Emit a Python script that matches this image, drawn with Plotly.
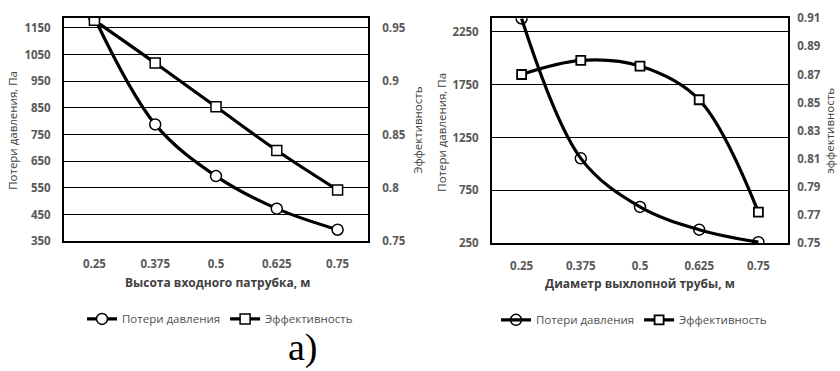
import plotly.graph_objects as go

W, H = 840, 371

# ---------------- data ----------------
categories = ["0.25", "0.375", "0.5", "0.625", "0.75"]

left_pressure = [1188, 788, 594, 472, 393]
left_efficiency = [0.957, 0.917, 0.876, 0.835, 0.798]

right_pressure = [2378, 1053, 593, 377, 259]
right_efficiency = [0.870, 0.880, 0.876, 0.852, 0.772]

left_y_ticks = [350, 450, 550, 650, 750, 850, 950, 1050, 1150]
left_y2_ticks = [0.75, 0.8, 0.85, 0.9, 0.95]
left_y2_labels = ["0.75", "0.8", "0.85", "0.9", "0.95"]
right_y_ticks = [250, 750, 1250, 1750, 2250]
right_y2_ticks = [0.75, 0.77, 0.79, 0.81, 0.83, 0.85, 0.87, 0.89, 0.91]
right_y2_labels = ["0.75", "0.77", "0.79", "0.81", "0.83", "0.85", "0.87", "0.89", "0.91"]

name_p = "Потери давления"
name_e = "Эффективность"

# ---------------- helpers ----------------
def px(x):
    return x / W

def py(y):
    return 1 - y / H

def bold(labels):
    return ["<b>%s</b>" % l for l in labels]

TICKFONT = dict(family="Open Sans", size=11.5, color="#595959")
TITLEFONT = dict(family="Open Sans", size=11.5, color="#404040")
LEGFONT = dict(family="Open Sans", size=11.5, color="#505050")

fig = go.Figure()

line = dict(color="black", width=3.2, shape="spline", smoothing=1)

# left chart
fig.add_trace(go.Scatter(x=categories, y=left_pressure, name=name_p, mode="lines+markers",
                         line=line, xaxis="x", yaxis="y", legend="legend",
                         marker=dict(symbol="circle", size=11, color="white",
                                     line=dict(color="black", width=1.5))))
fig.add_trace(go.Scatter(x=categories, y=left_efficiency, name=name_e, mode="lines+markers",
                         line=line, xaxis="x", yaxis="y2", legend="legend",
                         marker=dict(symbol="square", size=10, color="white",
                                     line=dict(color="black", width=1.5))))
# right chart
fig.add_trace(go.Scatter(x=categories, y=right_pressure, name=name_p, mode="lines+markers",
                         line=line, xaxis="x2", yaxis="y3", legend="legend2",
                         marker=dict(symbol="circle-open", size=11, color="black",
                                     line=dict(color="black", width=1.5))))
fig.add_trace(go.Scatter(x=categories, y=right_efficiency, name=name_e, mode="lines+markers",
                         line=line, xaxis="x2", yaxis="y4", legend="legend2",
                         marker=dict(symbol="square", size=9, color="white",
                                     line=dict(color="black", width=1.8))))

xcommon = dict(type="category", range=[-0.5, 4.5], showgrid=False, zeroline=False,
               showline=True, linecolor="black", linewidth=2, mirror=True,
               tickvals=categories, ticktext=bold(categories),
               ticks="outside", ticklen=11, tickcolor="rgba(0,0,0,0)",
               tickfont=TICKFONT, fixedrange=True)

fig.update_layout(
    width=W, height=H,
    margin=dict(l=0, r=0, t=0, b=0),
    paper_bgcolor="white", plot_bgcolor="white",
    xaxis=dict(xcommon, domain=[px(64), px(368)], anchor="y"),
    yaxis=dict(domain=[py(243), py(10)], range=[350, 1188.5], anchor="x",
               tickvals=left_y_ticks, ticktext=bold([str(v) for v in left_y_ticks]),
               showgrid=True, gridcolor="black", gridwidth=1.3,
               zeroline=False, showline=True, linecolor="black", linewidth=2, mirror=True,
               ticks="outside", ticklen=9, tickcolor="rgba(0,0,0,0)", tickfont=TICKFONT),
    yaxis2=dict(overlaying="y", side="right", anchor="x", range=[0.75, 0.9596],
                tickvals=left_y2_ticks, ticktext=bold(left_y2_labels), showgrid=False,
                zeroline=False, ticks="outside", ticklen=11, tickcolor="rgba(0,0,0,0)",
                tickfont=TICKFONT),
    xaxis2=dict(xcommon, domain=[px(492), px(788)], anchor="y3"),
    yaxis3=dict(domain=[py(245), py(10.7)], range=[250, 2380], anchor="x2",
                tickvals=right_y_ticks, ticktext=bold([str(v) for v in right_y_ticks]),
                showgrid=True, gridcolor="black", gridwidth=1.3,
                zeroline=False, showline=True, linecolor="black", linewidth=2, mirror=True,
                ticks="outside", ticklen=9, tickcolor="rgba(0,0,0,0)", tickfont=TICKFONT),
    yaxis4=dict(overlaying="y3", side="right", anchor="x2", range=[0.75, 0.91],
                tickvals=right_y2_ticks, ticktext=bold(right_y2_labels), showgrid=False,
                zeroline=False, ticks="outside", ticklen=6, tickcolor="rgba(0,0,0,0)",
                tickfont=TICKFONT),
    legend=dict(orientation="h", x=px(220), y=py(324), xanchor="center", yanchor="middle",
                font=LEGFONT, itemwidth=30, bgcolor="rgba(0,0,0,0)"),
    legend2=dict(orientation="h", x=px(634), y=py(325), xanchor="center", yanchor="middle",
                 font=LEGFONT, itemwidth=30, bgcolor="rgba(0,0,0,0)"),
    showlegend=True,
)

annotations = [
    dict(text="Потери давления, Па", x=px(13), y=py(128), textangle=-90, font=TITLEFONT),
    dict(text="Эффективность", x=px(418), y=py(127), textangle=-90, font=TITLEFONT),
    dict(text="Потери давления, Па", x=px(442), y=py(130), textangle=-90, font=TITLEFONT),
    dict(text="эффективность", x=px(830), y=py(128), textangle=-90, font=TITLEFONT),
    dict(text="<b>Высота входного патрубка, м</b>", x=px(217), y=py(286),
         font=dict(family="Open Sans", size=12, color="#404040")),
    dict(text="<b>Диаметр выхлопной трубы, м</b>", x=px(640), y=py(287),
         font=dict(family="Open Sans", size=12, color="#404040")),
    dict(text="а)", x=px(303), y=py(354),
         font=dict(family="Liberation Serif", size=38, color="black")),
]
for a in annotations:
    a.update(xref="paper", yref="paper", showarrow=False, xanchor="center", yanchor="middle")
fig.update_layout(annotations=annotations)

fig.write_html("out.html")
